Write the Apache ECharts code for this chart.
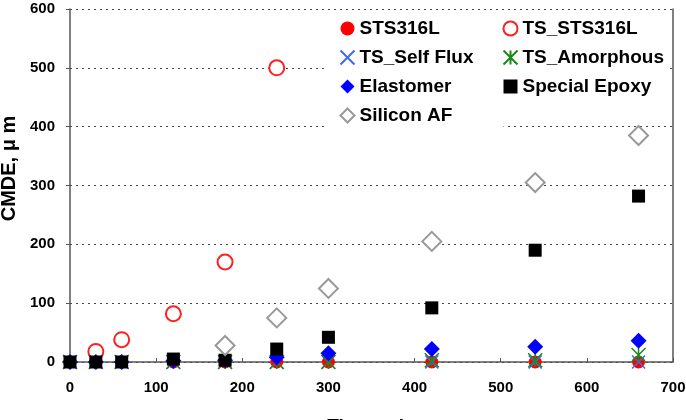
<!DOCTYPE html>
<html>
<head>
<meta charset="utf-8">
<script src="https://cdn.jsdelivr.net/npm/echarts@6/dist/echarts.min.js"></script>
<style>
html,body{margin:0;padding:0;background:#fff;}
#chart{width:686px;height:420px;}
</style>
</head>
<body>
<div id="chart"></div>
<script>
var times = [0, 30, 60, 120, 180, 240, 300, 420, 540, 660];
var sts316l      = [0, 0, 0, 0, 0, 0, 0, 0, 0, 0];
var tsSts316l    = [null, 18, 38, 82, 170, 500, null, null, null, null];
var tsSelfFlux   = [0, 0, 0, 0, 0, 0, 0, 0, 0, 0];
var tsAmorphous  = [0, 0, 0, 0, 0, 0, 0, 3, 3, 12];
var elastomer    = [0, 0, 0, 2, 3, 8, 15, 22, 26, 36];
var specialEpoxy = [0, 0, 0, 5, 3, 22, 42, 92, 190, 282];
var siliconAF    = [null, null, null, null, 28, 75, 125, 205, 305, 385];
var xTicks = [0, 100, 200, 300, 400, 500, 600, 700];
var yTicks = [0, 100, 200, 300, 400, 500, 600];

function pairs(v){
  var out = [];
  for (var i = 0; i < times.length; i++) { if (v[i] !== null) out.push([times[i], v[i]]); }
  return out;
}
var FONT = 'Liberation Sans';
var xPath = 'path://M0,0L10,10M10,0L0,10';
var starPath = 'path://M0,0L10,10M10,0L0,10M5,0L5,10';

var chart = echarts.init(document.getElementById('chart'), null, {renderer:'canvas'});
var gridLine = {show:true, lineStyle:{color:'#444', width:1, type:[2,4]}};
chart.setOption({
  animation:false,
  backgroundColor:'#fff',
  grid:{left:70, right:13, top:9, bottom:58, containLabel:false, outerBoundsMode:'none'},
  xAxis:{
    type:'value', min:xTicks[0], max:xTicks[xTicks.length-1], interval:100,
    name:'Time, min', nameLocation:'middle', nameGap:55,
    nameTextStyle:{fontFamily:FONT, fontWeight:'bold', fontSize:19, color:'#000'},
    axisLine:{show:true, lineStyle:{color:'#555', width:1.5}},
    axisTick:{show:true, inside:true, length:4, lineStyle:{color:'#555'}},
    axisLabel:{fontFamily:FONT, fontWeight:'bold', fontSize:15, color:'#000', margin:18},
    splitLine:{show:false}
  },
  yAxis:[{
    type:'value', min:yTicks[0], max:yTicks[yTicks.length-1], interval:100,
    name:'CMDE, \u03bc m', nameLocation:'middle', nameGap:48, nameRotate:90,
    nameTextStyle:{fontFamily:FONT, fontWeight:'bold', fontSize:20, color:'#000', padding:[0,0,0,34]},
    axisLine:{show:true, lineStyle:{color:'#555', width:1.5}},
    axisTick:{show:true, inside:false, length:4, lineStyle:{color:'#555'}},
    axisLabel:{fontFamily:FONT, fontWeight:'bold', fontSize:15, color:'#000', margin:15},
    splitLine:gridLine
  },{
    type:'value', min:0, max:600, interval:100, position:'right',
    axisLine:{show:true, lineStyle:{color:'#555', width:1.5}},
    axisTick:{show:false}, axisLabel:{show:false}, splitLine:{show:false}
  }],
  legend:[{
    orient:'vertical', left:328, top:10,
    padding:[9,30,6,10], backgroundColor:'#fff',
    itemWidth:14, itemHeight:14, itemGap:10,
    textStyle:{fontFamily:FONT, fontWeight:'bold', fontSize:19, color:'#000', lineHeight:17},
    data:['STS316L','TS_Self Flux','Elastomer','Silicon AF']
  },{
    orient:'vertical', left:491, top:10,
    padding:[9,5,6,10], backgroundColor:'#fff',
    itemWidth:14, itemHeight:14, itemGap:10,
    textStyle:{fontFamily:FONT, fontWeight:'bold', fontSize:19, color:'#000', lineHeight:17},
    data:['TS_STS316L','TS_Amorphous','Special Epoxy']
  }],
  series:[
    {name:'STS316L', type:'scatter', data:pairs(sts316l), symbol:'circle', symbolSize:13,
     itemStyle:{color:'#ff0000', opacity:1}},
    {name:'TS_STS316L', type:'scatter', data:pairs(tsSts316l), symbol:'emptyCircle', symbolSize:15,
     itemStyle:{color:'#ff2020', borderWidth:1.5, opacity:1}},
    {name:'TS_Self Flux', type:'scatter', data:pairs(tsSelfFlux), symbol:xPath, symbolSize:13,
     itemStyle:{color:'none', borderColor:'#3b6cf0', borderWidth:1.5, opacity:1}},
    {name:'TS_Amorphous', type:'scatter', data:pairs(tsAmorphous), symbol:starPath, symbolSize:14,
     itemStyle:{color:'none', borderColor:'#1a8a1a', borderWidth:1.5, opacity:1}},
    {name:'Elastomer', type:'scatter', data:pairs(elastomer), symbol:'diamond', symbolSize:16,
     itemStyle:{color:'#0000ff', opacity:1}},
    {name:'Special Epoxy', type:'scatter', data:pairs(specialEpoxy), symbol:'rect', symbolSize:13,
     itemStyle:{color:'#000000', opacity:1}},
    {name:'Silicon AF', type:'scatter', data:pairs(siliconAF), symbol:'emptyDiamond', symbolSize:19,
     itemStyle:{color:'#999999', borderWidth:1.5, opacity:1}}
  ]
});
</script>
</body>
</html>
